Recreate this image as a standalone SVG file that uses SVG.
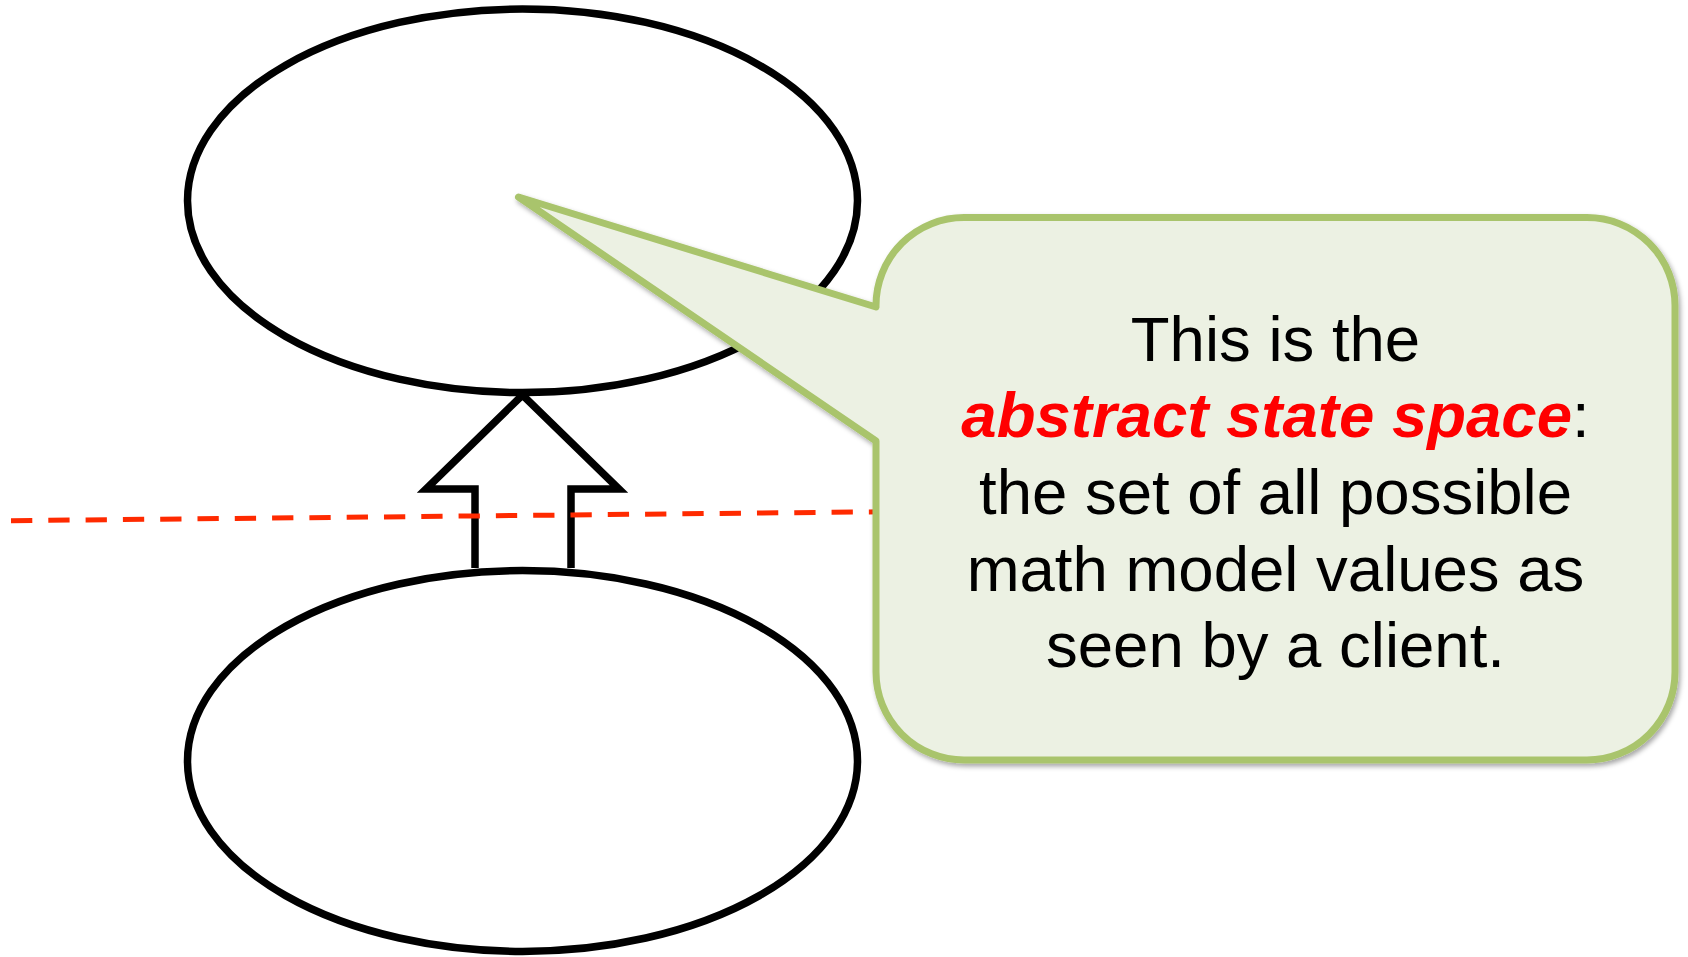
<svg xmlns="http://www.w3.org/2000/svg" width="1688" height="957" viewBox="0 0 1688 957">
<defs>
<style>
.shape{fill:none;stroke:#000;stroke-width:7.5}
.txt{font-family:"Liberation Sans",Arial,sans-serif;font-size:63.5px;fill:#000;text-anchor:middle}
.em{font-weight:bold;font-style:italic;fill:#FF0000}
</style>
<filter id="shadow" x="-10%" y="-10%" width="120%" height="120%">
<feDropShadow dx="2" dy="3" stdDeviation="2.5" flood-color="#000" flood-opacity="0.35"/>
</filter>
</defs>
<rect width="1688" height="957" fill="#fff"/>
<g id="top-ellipse">
<ellipse class="shape" cx="522.5" cy="200.8" rx="335" ry="191.8"/>
</g>
<g id="bottom-ellipse">
<ellipse class="shape" cx="522.5" cy="761" rx="335" ry="190.4"/>
</g>
<g id="connectors">
<path class="shape" stroke-width="6.5" stroke-linejoin="miter" d="M475,568 V489 H426 L522.5,395 L619,489 H571 V568"/>
<line x1="11" y1="520.7" x2="880" y2="511.8" stroke="#FF2A00" stroke-width="5" stroke-dasharray="21.3 16"/>
</g>
<g id="callout">
<path filter="url(#shadow)" fill="#ECF1E3" stroke="#A9C46C" stroke-width="7" stroke-linejoin="round" d="M964,217.5 H1587 A88,88 0 0 1 1675,305.5 V672 A88,88 0 0 1 1587,760 H964 A88,88 0 0 1 876,672 V441 L518.5,197 L876,307 V305.5 A88,88 0 0 1 964,217.5 Z"/>
<text class="txt" x="1275.5" y="360.5">This is the</text>
<text class="txt" x="1275.5" y="437"><tspan class="em">abstract state space</tspan>:</text>
<text class="txt" x="1275.5" y="514">the set of all possible</text>
<text class="txt" x="1275.5" y="590.5">math model values as</text>
<text class="txt" x="1275.5" y="667">seen by a client.</text>
</g>
</svg>
